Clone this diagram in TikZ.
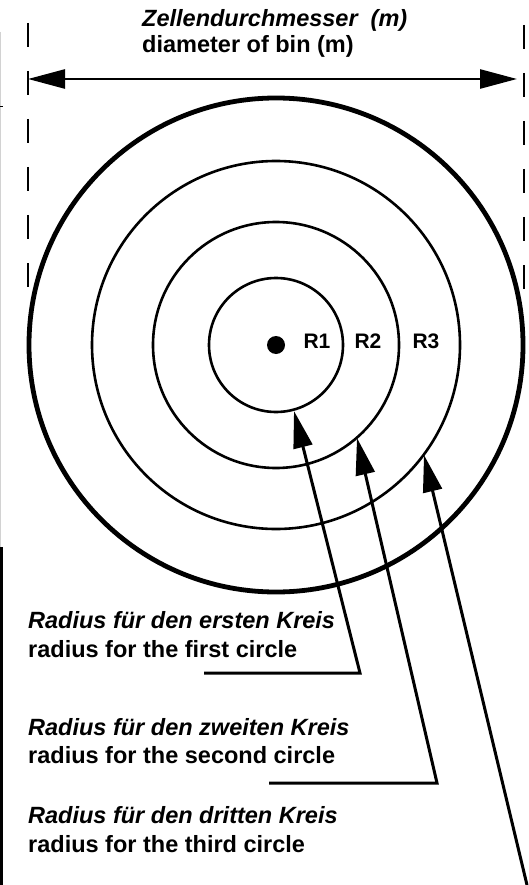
\documentclass[tikz,border=0pt]{standalone}
\usepackage{fontspec}
\setmainfont{Liberation Sans}
\usetikzlibrary{arrows.meta}

\begin{document}
\begin{tikzpicture}[
    x=1pt, y=-1pt,
    ring/.style={draw, line width=2.6pt},
    rim/.style={draw, line width=4.8pt},
    guide/.style={line width=2.6pt, dash pattern=on 24pt off 24pt},
    dimarrow/.style={{Triangle[length=37pt, width=19pt]}-{Triangle[length=37pt, width=19pt]}, line width=2.6pt},
    pointer/.style={-{Triangle[length=37pt, width=19pt]}, line width=3pt, line join=miter},
    de/.style={font=\fontsize{23.5}{28}\selectfont\bfseries\itshape, inner sep=0pt, anchor=base west},
    en/.style={font=\fontsize{23.5}{28}\selectfont\bfseries, inner sep=0pt, anchor=base west},
    rlbl/.style={font=\fontsize{21}{25}\selectfont\bfseries, inner sep=0pt, anchor=base}
  ]
  \useasboundingbox (0,0) rectangle (528,885);

  % Left edge remnants
  \draw[gray!35, line width=1pt] (0.5,32) -- (0.5,547);
  \draw[line width=1pt] (0,107) -- (3,107);
  \draw[line width=2.5pt] (1.25,547) -- (1.25,885);

  % Centre and circles
  \coordinate (c) at (276,345);
  \draw[rim] (c) circle[radius=247];
  \draw[ring] (c) circle[radius=184];
  \draw[ring] (c) circle[radius=123];
  \draw[ring] (c) circle[radius=67];
  \fill (c) circle[radius=9];

  % Radius labels
  \node[rlbl] (r1) at (317,348) {R1};
  \node[rlbl] (r2) at (368,348) {R2};
  \node[rlbl] (r3) at (426,348) {R3};

  % Bin diameter
  \coordinate (gl-top) at (28,23);
  \coordinate (gl-bot) at (28,290);
  \coordinate (gr-top) at (524,25);
  \coordinate (gr-bot) at (524,292);
  \draw[guide] (gl-top) -- (gl-bot);
  \draw[guide] (gr-top) -- (gr-bot);
  \coordinate (dl) at (28,79);
  \coordinate (dr) at (517,79);
  \draw[dimarrow] (dl) -- (dr);
  \node[de] (diam-de) at (142,27) {Zellendurchmesser\ \ (m)};
  \node[en] (diam-en) at (142,53) {diameter of bin (m)};

  % Circle captions
  \node[de] (c1-de) at (28,628) {Radius für den ersten Kreis};
  \node[en] (c1-en) at (28,657) {radius for the first circle};
  \node[de] (c2-de) at (28,735) {Radius für den zweiten Kreis};
  \node[en] (c2-en) at (28,763) {radius for the second circle};
  \node[de] (c3-de) at (28,823) {Radius für den dritten Kreis};
  \node[en] (c3-en) at (28,852) {radius for the third circle};

  % Pointers
  \coordinate (t1) at (294,411);
  \coordinate (t2) at (357,438);
  \coordinate (t3) at (424,455);
  \coordinate (p1a) at (204,673);
  \coordinate (p1b) at (360,673);
  \coordinate (p2a) at (269,783);
  \coordinate (p2b) at (437,783);
  \coordinate (p3) at (527,885);
  \draw[pointer] (p1a) -- (p1b) -- (t1);
  \draw[pointer] (p2a) -- (p2b) -- (t2);
  \draw[pointer] (p3) -- (t3);

\end{tikzpicture}
\end{document}
